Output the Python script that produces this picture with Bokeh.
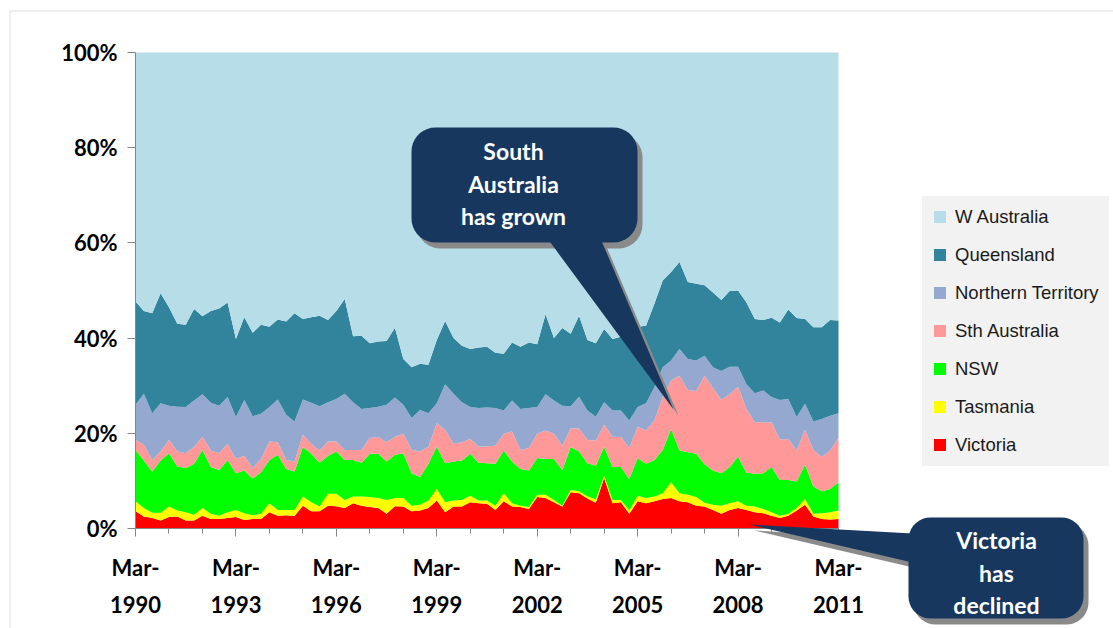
import numpy as np
from bokeh.plotting import figure
from bokeh.models import (ColumnDataSource, Range1d, FixedTicker, PrintfTickFormatter,
                          Legend, LegendItem, PolyAnnotation, Label)
from bokeh.embed import file_html
from bokeh.resources import INLINE

# ---------------- data (share of total, %) ----------------
months = ["Mar", "Jun", "Sep", "Dec"]
quarters = [f"{m}-{y}" for y in range(1990, 2012) for m in months][:85]   # Mar-1990 .. Mar-2011

victoria = [3.6, 2.5, 2.2, 1.7, 2.4, 2.5, 1.7, 1.7, 2.7, 2.0, 2.0, 2.2, 2.4, 1.8, 2.0, 2.0,
            3.4, 2.7, 2.8, 2.6, 4.8, 3.6, 3.6, 4.8, 4.7, 4.3, 5.3, 4.8, 4.5, 4.3, 3.1, 4.7,
            4.6, 3.6, 3.8, 4.3, 5.9, 3.4, 4.6, 4.6, 5.5, 5.3, 5.2, 3.9, 5.7, 4.6, 4.5, 4.1,
            6.6, 6.4, 5.5, 4.6, 7.6, 7.4, 6.3, 5.4, 10.6, 5.3, 5.5, 3.1, 5.7, 5.3, 5.7, 6.2,
            6.4, 5.7, 5.5, 4.8, 4.6, 3.9, 3.1, 3.9, 4.3, 3.9, 3.4, 3.2, 2.7, 2.2, 2.7, 3.8,
            5.0, 2.5, 2.0, 1.9, 2.0]
tasmania = [2.1, 1.8, 1.1, 1.6, 2.2, 1.3, 1.7, 1.2, 1.6, 1.1, 0.7, 1.2, 1.5, 1.4, 0.8, 1.1,
            1.9, 1.2, 1.1, 1.3, 1.9, 1.9, 1.0, 2.5, 2.6, 1.7, 1.4, 1.9, 2.1, 2.1, 2.9, 1.7,
            1.8, 1.2, 1.2, 1.6, 2.4, 2.1, 1.3, 1.4, 1.4, 0.6, 0.7, 0.9, 1.7, 0.7, 0.3, 0.4,
            0.5, 0.7, 0.5, 0.2, 0.5, 0.4, 0.5, 0.7, 0.5, 0.7, 0.5, 0.7, 1.2, 1.1, 1.0, 1.2,
            3.3, 1.7, 1.6, 1.8, 0.8, 1.1, 1.7, 1.4, 1.4, 0.9, 1.2, 0.9, 0.7, 0.5, 0.4, 0.5,
            1.2, 0.6, 1.2, 1.5, 1.8]
nsw = [10.8, 10.0, 8.7, 11.0, 11.2, 9.2, 9.3, 10.7, 12.2, 9.8, 9.6, 11.0, 7.7, 9.0, 7.7, 8.7,
       9.1, 11.6, 8.6, 8.1, 10.4, 10.2, 9.2, 8.0, 8.9, 8.4, 7.7, 7.1, 9.1, 9.3, 8.1, 9.1,
       9.4, 6.8, 5.8, 7.7, 8.9, 8.2, 8.2, 8.3, 8.8, 7.9, 7.8, 8.8, 9.0, 8.8, 7.7, 7.7,
       7.7, 7.5, 8.6, 7.5, 9.0, 8.4, 6.9, 7.1, 6.1, 6.9, 6.9, 6.6, 7.9, 7.2, 7.7, 9.1,
       11.2, 9.0, 8.9, 9.1, 8.1, 7.2, 6.8, 7.6, 9.4, 6.9, 6.9, 7.5, 9.5, 7.5, 7.1, 5.6,
       7.2, 5.7, 4.6, 4.9, 5.9]
sth_australia = [2.1, 3.3, 2.4, 1.9, 2.8, 3.2, 3.1, 3.5, 2.8, 3.5, 3.5, 3.4, 3.0, 3.1, 2.2, 2.8,
                 3.9, 2.6, 1.9, 2.1, 2.6, 2.1, 2.6, 3.0, 2.1, 2.1, 2.1, 2.7, 3.3, 3.5, 4.0, 3.8,
                 4.1, 4.9, 5.4, 3.6, 4.9, 7.0, 3.7, 3.8, 3.1, 3.4, 3.6, 3.8, 3.5, 6.3, 4.0, 4.7,
                 5.1, 6.0, 5.3, 5.1, 3.9, 4.8, 4.9, 5.3, 4.6, 6.4, 6.3, 6.5, 6.6, 7.0, 8.3, 11.1,
                 10.2, 15.7, 13.1, 13.2, 18.6, 17.3, 15.4, 15.3, 14.7, 13.4, 10.8, 10.7, 9.4, 8.5, 8.6, 6.5,
                 7.3, 7.7, 7.2, 8.1, 9.3]
northern_territory = [7.4, 10.7, 9.8, 10.1, 7.2, 9.4, 9.7, 9.8, 8.9, 10.0, 10.0, 9.8, 8.8, 11.7, 10.9, 9.5,
                      7.2, 9.0, 9.5, 8.4, 7.4, 8.6, 9.3, 8.2, 8.9, 11.8, 10.0, 8.6, 6.3, 6.4, 7.9, 8.2,
                      6.1, 6.7, 8.7, 7.0, 4.2, 9.6, 10.5, 8.4, 6.7, 8.1, 8.1, 7.9, 4.9, 6.5, 8.6, 8.4,
                      5.6, 7.6, 7.0, 8.4, 4.7, 6.7, 6.2, 5.0, 4.7, 5.5, 5.6, 5.8, 4.1, 5.7, 7.0, 6.3,
                      4.2, 5.6, 6.5, 6.4, 4.2, 4.4, 6.1, 5.8, 4.2, 5.2, 6.1, 6.7, 5.3, 8.3, 8.4, 7.0,
                      5.5, 6.0, 8.0, 7.3, 5.2]
queensland = [21.7, 17.4, 21.0, 23.1, 20.7, 17.4, 17.3, 19.2, 16.4, 19.3, 20.4, 19.9, 16.4, 17.4, 17.5, 18.7,
              16.9, 16.8, 19.6, 22.7, 16.9, 18.0, 19.0, 17.3, 18.5, 19.9, 13.9, 15.4, 13.6, 13.7, 13.4, 14.7,
              9.6, 10.7, 9.7, 10.2, 13.3, 13.3, 11.7, 11.9, 12.2, 12.7, 12.8, 11.6, 11.9, 12.2, 13.1, 13.8,
              13.2, 16.8, 13.1, 16.3, 15.2, 17.0, 14.8, 15.4, 15.4, 15.0, 15.5, 18.9, 16.9, 16.3, 17.5, 18.2,
              18.6, 18.3, 16.2, 16.1, 14.8, 15.7, 14.9, 15.9, 16.0, 17.2, 15.6, 14.8, 16.7, 16.3, 18.8, 20.8,
              17.8, 19.8, 19.3, 20.1, 19.5]
w_australia = [52.3, 54.3, 54.8, 50.6, 53.5, 57.0, 57.2, 53.9, 55.4, 54.3, 53.8, 52.5, 60.2, 55.6, 58.9, 57.2,
               57.6, 56.1, 56.5, 54.8, 56.0, 55.6, 55.3, 56.2, 54.3, 51.8, 59.6, 59.5, 61.1, 60.7, 60.6, 57.8,
               64.4, 66.1, 65.4, 65.6, 60.4, 56.4, 60.0, 61.6, 62.3, 62.0, 61.8, 63.1, 63.3, 60.9, 61.8, 60.9,
               61.3, 55.0, 60.0, 57.9, 59.1, 55.3, 60.4, 61.1, 58.1, 60.2, 59.7, 58.4, 57.6, 57.4, 52.8, 47.9,
               46.1, 44.0, 48.2, 48.6, 48.9, 50.4, 52.0, 50.1, 50.0, 52.5, 56.0, 56.2, 55.7, 56.7, 54.0, 55.8,
               56.0, 57.7, 57.7, 56.2, 56.3]

series_names = ["Victoria", "Tasmania", "NSW", "Sth Australia", "Northern Territory", "Queensland", "W Australia"]
series_keys = ["vic", "tas", "nsw", "sa", "nt", "qld", "wa"]
series_values = [victoria, tasmania, nsw, sth_australia, northern_territory, queensland, w_australia]
series_colors = ["#FF0000", "#FFFF00", "#00FF00", "#FF9999", "#95A9D0", "#31849B", "#B7DDE8"]

label_quarters = ["Mar-1990", "Mar-1993", "Mar-1996", "Mar-1999", "Mar-2002", "Mar-2005", "Mar-2008", "Mar-2011"]
y_ticks = [0, 20, 40, 60, 80, 100]

# ---------------- 100 % stacking ----------------
arr = np.array(series_values, dtype=float)
shares = arr / arr.sum(axis=0) * 100.0
data = {"x": np.arange(len(quarters))}
for k, s in zip(series_keys, shares):
    data[k] = s
source = ColumnDataSource(data)

# ---------------- layout: the frame covers the whole canvas; plot area placed by the ranges -----
W, H = 1113, 628
PL, PR, PT, PB = 135, 838, 52, 528          # plot-area pixel box
nx = len(quarters) - 1
sx = (PR - PL) / nx
sy = (PB - PT) / 100.0
x_range = Range1d(-PL / sx, nx + (W - PR) / sx)
y_range = Range1d(-(H - PB) / sy, 100 + PT / sy)

p = figure(width=W, height=H, output_backend="svg", toolbar_location=None,
           x_range=x_range, y_range=y_range, min_border=0,
           background_fill_color="white", border_fill_color="white")
p.outline_line_color = None
p.grid.visible = False

renderers = p.varea_stack(stackers=series_keys, x="x", color=series_colors, source=source)

# ---------------- axes ----------------
axis_gray = "#868686"
major_idx = [quarters.index(q) for q in label_quarters]
p.xaxis.ticker = FixedTicker(ticks=major_idx, minor_ticks=list(range(0, len(quarters), 4)))
p.xaxis.major_label_overrides = {i: q.replace("-", "-\n") for i, q in zip(major_idx, label_quarters)}
p.xaxis.fixed_location = 0
p.xaxis.bounds = (0, nx)
p.yaxis.ticker = FixedTicker(ticks=y_ticks, minor_ticks=[])
p.yaxis.formatter = PrintfTickFormatter(format="%d%%")
p.yaxis.fixed_location = 0
p.yaxis.bounds = (0, 100)
for ax in (p.xaxis[0], p.yaxis[0]):
    ax.axis_line_color = axis_gray
    ax.major_tick_line_color = axis_gray
    ax.minor_tick_line_color = axis_gray
    ax.major_tick_in = 0
    ax.minor_tick_in = 0
    ax.major_tick_out = 8
    ax.minor_tick_out = 5
    ax.major_label_text_font = "Lato"
    ax.major_label_text_font_style = "bold"
    ax.major_label_text_font_size = "22px"
    ax.major_label_text_color = "black"
p.xaxis.major_label_text_line_height = 1.4
p.xaxis.major_label_standoff = 17
p.yaxis.major_label_standoff = 10

# ---------------- legend ----------------
items = [LegendItem(label=n, renderers=[r]) for n, r in zip(series_names, renderers)][::-1]
legend = Legend(items=items, location=(922, H - 465.5), orientation="vertical",
                background_fill_color="#F2F2F2", background_fill_alpha=1.0,
                border_line_color="#F2F2F2", border_line_width=1,
                glyph_width=15, glyph_height=15,
                label_standoff=8, label_height=20, label_width=140, padding=9, spacing=16, margin=0,
                label_text_font="Liberation Sans", label_text_font_size="18.5px",
                label_text_color="#1a1a1a")
p.add_layout(legend, "center")

# ---------------- outer border & callouts (canvas coordinates) ----------------
p.add_layout(PolyAnnotation(xs=[9.5, 9.5, 1300, 1300], ys=[900, 10.5, 10.5, 900],
                            xs_units="canvas", ys_units="canvas",
                            fill_alpha=0, line_color="#8c8c8c", line_width=1))


def rounded_rect(x0, y0, x1, y1, r, n=10):
    xs, ys = [], []
    corners = [(x1 - r, y0 + r, -90, 0), (x1 - r, y1 - r, 0, 90),
               (x0 + r, y1 - r, 90, 180), (x0 + r, y0 + r, 180, 270)]
    for cx, cy, a0, a1 in corners:
        for a in np.linspace(np.radians(a0), np.radians(a1), n):
            xs.append(cx + r * np.cos(a))
            ys.append(cy + r * np.sin(a))
    return xs, ys


navy = "#17375E"
shadow = "#8a8a8a"
callouts = [
    dict(rect=(411, 127, 637, 242, 24), tail=([547, 600, 673], [238, 238, 409]),
         text=["South", "Australia", "has grown"], tx=513, ty=[150, 183, 215]),
    dict(rect=(908, 517, 1083, 618, 22), tail=([912, 912, 749], [533, 562, 524]),
         text=["Victoria", "has", "declined"], tx=996, ty=[539, 572, 604]),
]
for c in callouts:
    x0, y0, x1, y1, r = c["rect"]
    rx, ry = rounded_rect(x0, y0, x1, y1, r)
    tx_, ty_ = c["tail"]
    for dx, dy, col in ((5, 6, shadow), (0, 0, navy)):
        p.add_layout(PolyAnnotation(xs=[v + dx for v in rx], ys=[v + dy for v in ry],
                                    xs_units="canvas", ys_units="canvas",
                                    fill_color=col, fill_alpha=1, line_color=None))
        p.add_layout(PolyAnnotation(xs=[v + dx for v in tx_], ys=[v + dy for v in ty_],
                                    xs_units="canvas", ys_units="canvas",
                                    fill_color=col, fill_alpha=1, line_color=None))
    for t, yy in zip(c["text"], c["ty"]):
        p.add_layout(Label(x=c["tx"], y=yy, x_units="canvas", y_units="canvas", text=t,
                           text_align="center", text_baseline="middle",
                           text_font="Lato", text_font_style="bold", text_font_size="23px",
                           text_color="white"))

open("out.html", "w").write(file_html(p, INLINE))
